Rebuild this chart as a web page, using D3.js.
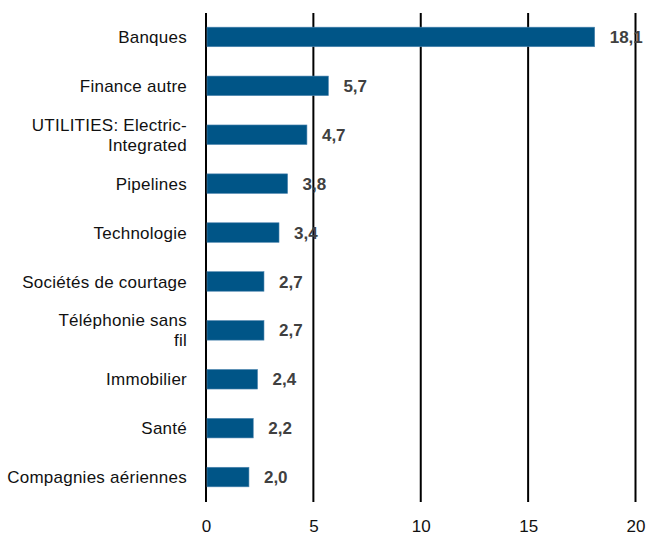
<!DOCTYPE html>
<html><head><meta charset="utf-8">
<script src="https://cdn.jsdelivr.net/npm/d3@7"></script>
<style>body{margin:0;background:#fff}</style>
</head><body>
<script>
const categories = [["Banques"],["Finance autre"],["UTILITIES: Electric-","Integrated"],["Pipelines"],["Technologie"],["Sociétés de courtage"],["Téléphonie sans","fil"],["Immobilier"],["Santé"],["Compagnies aériennes"]];
const values = [18.1,5.7,4.7,3.8,3.4,2.7,2.7,2.4,2.2,2.0];
const valueLabels = ["18,1","5,7","4,7","3,8","3,4","2,7","2,7","2,4","2,2","2,0"];
const ticks = [0,5,10,15,20];

const W=647,H=536;
const font = "'Liberation Sans',Arial,sans-serif";
const svg = d3.select("body").append("svg").attr("width",W).attr("height",H);
const x = d3.scaleLinear().domain([0,20]).range([206,635.5]);
const y = d3.scaleBand().domain(d3.range(categories.length)).range([12.5,501.5]).paddingInner(0.6).paddingOuter(0.3);

// gridlines
svg.append("g").selectAll("line").data(ticks).join("line")
  .attr("x1",d=>x(d)).attr("x2",d=>x(d)).attr("y1",13).attr("y2",502)
  .attr("stroke","#000").attr("stroke-width",2);

// bars
svg.append("g").selectAll("rect").data(values).join("rect")
  .attr("x",x(0)+1).attr("y",(d,i)=>y(i))
  .attr("width",d=>x(d)-x(0)-1).attr("height",y.bandwidth())
  .attr("fill","#005587").attr("stroke","#4f86b0").attr("stroke-width",0.6);

// value labels
svg.append("g").selectAll("text").data(values).join("text")
  .attr("x",d=>x(d)+15).attr("y",(d,i)=>y(i)+y.bandwidth()/2)
  .attr("dy","0.36em").attr("font-family",font).attr("font-size",17).attr("font-weight","bold")
  .attr("fill","#404040").text((d,i)=>valueLabels[i]);

// category labels
const cl = svg.append("g").selectAll("text").data(categories).join("text")
  .attr("text-anchor","end").attr("font-family",font).attr("font-size",17).attr("fill","#111")
  .attr("letter-spacing","0.25px")
  .attr("y",(d,i)=>y(i)+y.bandwidth()/2);
cl.each(function(d){
  const t=d3.select(this); const n=d.length; const lh=20;
  d.forEach((s,j)=>{
    t.append("tspan").attr("x",187).attr("dy", j===0 ? ((-(n-1)*lh/2)/17+0.36)+"em" : lh+"px").text(s);
  });
});

// x axis tick labels
const ax = d3.axisBottom(x).tickValues(ticks).tickSize(0).tickPadding(0).tickFormat(d3.format("d"));
const g = svg.append("g").attr("transform","translate(0,520)").call(ax);
g.select(".domain").remove();
g.selectAll("text").attr("font-family",font).attr("font-size",17).attr("fill","#111").attr("dy","0.71em");
</script>
</body></html>
